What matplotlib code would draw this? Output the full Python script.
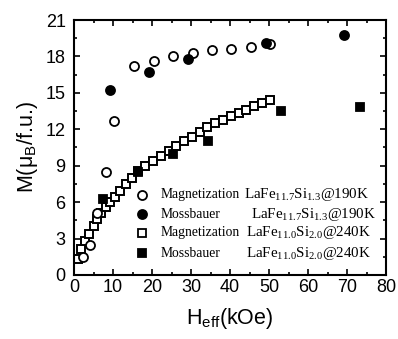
import matplotlib
matplotlib.use("Agg")
import matplotlib.pyplot as plt
from matplotlib.ticker import MultipleLocator

plt.rcParams['font.family'] = ['Liberation Sans', 'DejaVu Sans']
plt.rcParams['mathtext.fontset'] = 'custom'
plt.rcParams['mathtext.rm'] = 'Liberation Sans'

# magnetization, LaFe11.7Si1.3 @190K (open circles)
mag1_h = [2.2, 4.2, 6.0, 8.2, 10.3, 15.4, 20.4, 25.5, 30.4, 35.4, 40.3, 45.3, 50.3]
mag1_m = [1.45, 2.5, 5.1, 8.5, 12.7, 17.2, 17.65, 18.0, 18.3, 18.5, 18.65, 18.8, 19.0]

# Mossbauer, LaFe11.7Si1.3 @190K (filled circles)
mos1_h = [9.3, 19.2, 29.1, 49.2, 69.1]
mos1_m = [15.2, 16.7, 17.8, 19.1, 19.8]

# magnetization, LaFe11.0Si2.0 @240K (open squares)
mag2_h = [1.0, 1.8, 2.8, 3.9, 5.0, 6.0, 7.0, 8.2, 9.3, 10.4, 11.8, 13.3, 14.8, 16.3,
          18.3, 20.3, 22.3, 24.3, 26.2, 28.2, 30.2, 32.2, 34.2, 36.2, 38.2, 40.2,
          42.2, 44.2, 46.2, 48.2, 50.2]
mag2_m = [1.3, 2.1, 2.8, 3.4, 4.0, 4.6, 5.1, 5.6, 6.0, 6.4, 6.9, 7.5, 8.0, 8.6,
          9.0, 9.4, 9.8, 10.2, 10.6, 11.0, 11.4, 11.8, 12.15, 12.5, 12.8, 13.1,
          13.35, 13.6, 13.9, 14.15, 14.4]

# Mossbauer, LaFe11.0Si2.0 @240K (filled squares)
mos2_h = [7.3, 16.3, 25.3, 34.3, 53.1, 73.2]
mos2_m = [6.26, 8.5, 9.94, 11.06, 13.5, 13.86]

leg_names = ["Magnetization", "Mossbauer", "Magnetization", "Mossbauer"]
leg_formula = [r"LaFe$_{\mathregular{11.7}}$Si$_{\mathregular{1.3}}$@190K",
               r"LaFe$_{\mathregular{11.7}}$Si$_{\mathregular{1.3}}$@190K",
               r"LaFe$_{\mathregular{11.0}}$Si$_{\mathregular{2.0}}$@240K",
               r"LaFe$_{\mathregular{11.0}}$Si$_{\mathregular{2.0}}$@240K"]

fig = plt.figure(figsize=(3.98, 3.39), dpi=100)
ax = fig.add_axes([0.186, 0.189, 0.784, 0.752])

styles = [dict(marker='o', mfc='white', mec='black', ms=6.5),
          dict(marker='o', mfc='black', mec='black', ms=6.5),
          dict(marker='s', mfc='white', mec='black', ms=5.8),
          dict(marker='s', mfc='black', mec='black', ms=6.2)]

ax.plot(mag2_h, mag2_m, ls='none', mew=1.4, **styles[2])
ax.plot(mag1_h, mag1_m, ls='none', mew=1.3, **styles[0])
ax.plot(mos1_h, mos1_m, ls='none', mew=1.3, **styles[1])
ax.plot(mos2_h, mos2_m, ls='none', mew=1.3, **styles[3])

# hand-made legend, two text columns
rows_y = [0.314, 0.239, 0.165, 0.086]
formula_x = [0.545, 0.567, 0.552, 0.552]
for i in range(4):
    ax.plot([0.218], [rows_y[i]], transform=ax.transAxes, ls='none', mew=1.3,
            clip_on=False, **styles[i])
    ax.text(0.276, rows_y[i], leg_names[i], transform=ax.transAxes,
            family='Liberation Serif', fontsize=9.8, va='center')
    ax.text(formula_x[i], rows_y[i], leg_formula[i], transform=ax.transAxes,
            family='Liberation Serif', fontsize=10.8, va='center')

ax.set_xlim(0, 80)
ax.set_ylim(0, 21)
ax.xaxis.set_major_locator(MultipleLocator(10))
ax.xaxis.set_minor_locator(MultipleLocator(5))
ax.yaxis.set_major_locator(MultipleLocator(3))
ax.yaxis.set_minor_locator(MultipleLocator(1.5))
ax.tick_params(which='both', direction='in', top=True, right=True, width=1.2)
ax.tick_params(which='major', length=4.5, labelsize=13)
ax.tick_params(which='minor', length=2.5)
ax.tick_params(axis='x', pad=3)
ax.tick_params(axis='y', pad=6)
for s in ax.spines.values():
    s.set_linewidth(1.5)

ax.set_xlabel(r"H$_{\mathregular{eff}}$(kOe)", fontsize=15.5, labelpad=7)
ax.set_ylabel(r"M(μ$_{\mathregular{B}}$/f.u.)", fontsize=15.5, labelpad=4)

fig.savefig("out.png", dpi=100)
